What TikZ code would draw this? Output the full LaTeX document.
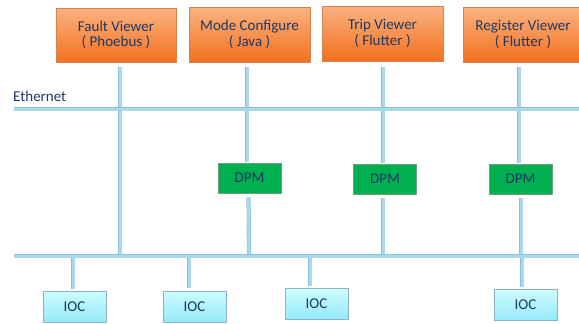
\documentclass[tikz,border=0pt]{standalone}
\usepackage{fontspec}
\setmainfont{Carlito}
\definecolor{txt}{RGB}{31,56,100}
\definecolor{busedge}{RGB}{135,196,218}
\definecolor{busfill}{RGB}{170,218,234}
\definecolor{orgtop}{RGB}{251,178,128}
\definecolor{orgbot}{RGB}{243,112,30}
\definecolor{orgedge}{RGB}{215,130,80}
\definecolor{dpmfill}{RGB}{0,176,80}
\definecolor{dpmedge}{RGB}{110,160,125}
\definecolor{ioctop}{RGB}{205,252,255}
\definecolor{iocbot}{RGB}{150,234,250}
\definecolor{iocedge}{RGB}{140,180,200}
\begin{document}
\begin{tikzpicture}[x=1pt,y=-1pt,
  every node/.style={font=\fontsize{15}{15.5}\selectfont, text=txt, inner sep=0pt},
  appbox/.style={draw=orgedge, line width=0.6pt, top color=orgtop, bottom color=orgbot,
    minimum width=121pt, minimum height=55pt, align=center},
  dpmbox/.style={draw=dpmedge, line width=0.6pt, fill=dpmfill,
    minimum width=63pt, minimum height=30pt},
  iocbox/.style={draw=iocedge, line width=0.6pt, top color=ioctop, bottom color=iocbot,
    minimum width=63pt, minimum height=31pt},
  bus/.style={draw=busedge, double=busfill, double distance=3pt, line width=0.6pt}]
\useasboundingbox (0,0) rectangle (579,324);

% application boxes
\node[appbox, minimum width=120pt, minimum height=54pt] (fv) at (116,35) {Fault Viewer\\( Phoebus )};
\node[appbox] (mc) at (249.5,34.5) {Mode Configure\\( Java )};
\node[appbox] (tv) at (382.5,33.5) {Trip Viewer\\( Flutter )};
\node[appbox, minimum width=120pt] (rv) at (523,34.5) {Register Viewer\\( Flutter )};

% DPM boxes
\node[dpmbox] (d1) at (249.5,178) {DPM};
\node[dpmbox] (d2) at (385,179) {DPM};
\node[dpmbox] (d3) at (520.5,179) {DPM};

% IOC boxes
\node[iocbox] (i1) at (74.5,306.5) {IOC};
\node[iocbox] (i2) at (194.5,306.5) {IOC};
\node[iocbox] (i3) at (316.5,303.5) {IOC};
\node[iocbox] (i4) at (525.5,304.5) {IOC};

% bus end points
\coordinate (ethL) at (14,109);
\coordinate (ethR) at (582,109);
\coordinate (lowL) at (14,256);
\coordinate (lowR) at (582,256);

\node[anchor=base west] (eth) at (13,101) {Ethernet};

% vertical connections
\coordinate (fvtop) at (120,67);
\coordinate (fvbot) at (120,256);
\draw[bus] (fvtop) -- (fvbot);

\coordinate (mctop) at (247,67);
\draw[bus] (mctop) -- ([xshift=-2.5pt,yshift=1pt]d1.north);
\coordinate (d1b) at (249,254);
\draw[bus] ([xshift=-1pt,yshift=-4pt]d1.south) -- (d1b);

\coordinate (tvtop) at (383,67);
\draw[bus] (tvtop) -- ([xshift=-2pt,yshift=1pt]d2.north);
\coordinate (d2b) at (383,254);
\draw[bus] ([xshift=-2pt,yshift=-4pt]d2.south) -- (d2b);

\coordinate (rvtop) at (519,67);
\draw[bus] (rvtop) -- ([xshift=-1.5pt,yshift=1pt]d3.north);
\coordinate (d3b) at (521,254);
\draw[bus] ([xshift=0.5pt,yshift=-4pt]d3.south) -- (d3b);

% IOC stubs
\coordinate (s1) at (73,256);
\coordinate (s2) at (189,256);
\coordinate (s3) at (310,256);
\coordinate (s4) at (522,256);
\draw[bus] (s1) -- ([xshift=-1.5pt,yshift=1.5pt]i1.north);
\draw[bus] (s2) -- ([xshift=-5.5pt,yshift=3pt]i2.north);
\draw[bus] (s3) -- ([xshift=-6.5pt,yshift=1.5pt]i3.north);
\draw[bus] (s4) -- ([xshift=-3.5pt,yshift=2pt]i4.north);

% buses
\draw[bus] (ethL) -- (ethR);
\draw[bus] (lowL) -- (lowR);
\end{tikzpicture}
\end{document}
